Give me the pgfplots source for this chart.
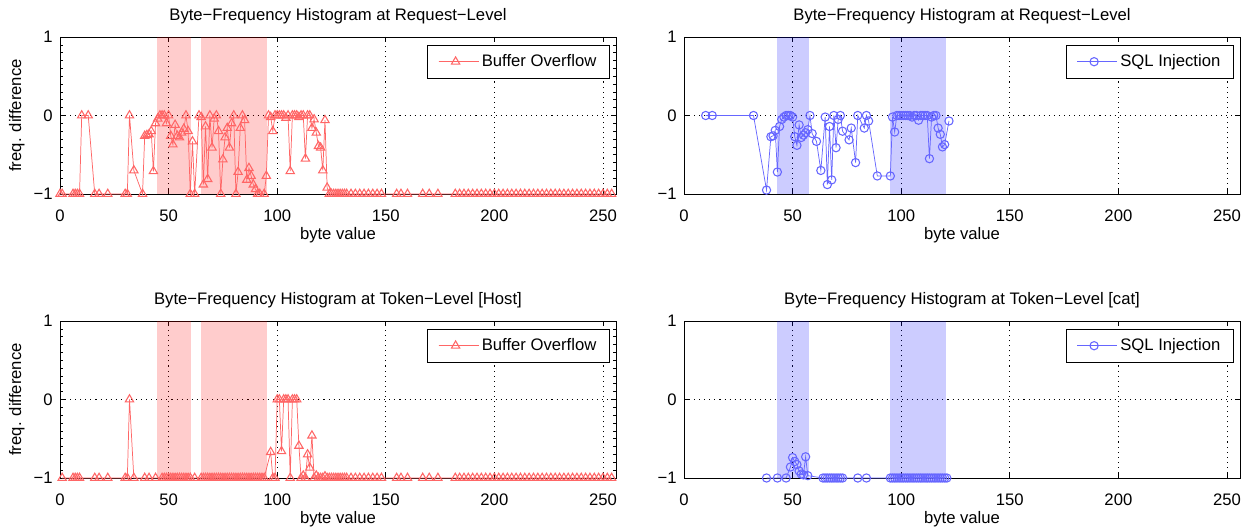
\documentclass[border=0pt]{standalone}
\usepackage{pgfplots}
\pgfplotsset{compat=1.18}
\usepackage{fontspec}
\setmainfont{Liberation Sans}
\definecolor{bred}{RGB}{255,102,102}
\definecolor{bblue}{RGB}{102,102,255}
\newcommand{\fs}{\fontsize{12.5}{14.5}\selectfont}
\pgfplotsset{
  base/.style={
    scale only axis, width=417pt, height=117.75pt,
    xmin=0, xmax=256, ymin=-1, ymax=1,
    xtick={0,50,100,150,200,250}, ytick={-1,0,1}, yticklabels={−1,0,1},
    /pgf/number format/assume math mode=true,
    tick align=inside, major tick length=4pt, minor tick length=2pt,
    grid=major, major grid style={black, line width=0.5pt, dash pattern=on 0.8pt off 3pt},
    axis line style={black, line width=0.5pt},
    tick style={black, line width=0.5pt},
    clip=false,
    font=\fs,
    ticklabel style={font=\fs},
    xticklabel style={yshift=-8.5pt},
    yticklabel style={xshift=-2pt},
    xlabel={byte value},
    xlabel style={font=\fs, yshift=2.5pt},
    ylabel style={font=\fs},
    title style={font=\fs, yshift=0.5pt},
    legend style={at={(1,1)}, anchor=north east, xshift=-4.5pt, yshift=-6pt,
      draw=black, line width=0.5pt, font=\fs, inner xsep=8pt, inner ysep=5pt},
    legend cell align=left,
    legend image code/.code={\draw[mark repeat=2,mark phase=2,##1] plot coordinates {(0cm,0cm) (0.45cm,0cm) (0.9cm,0cm)};\path (0cm,0cm) -- (1.06cm,0cm);},
  },
  redser/.style={color=bred, line width=0.55pt, mark=triangle, mark size=3.6pt, mark options={solid, line width=0.8pt, fill=none}},
  blueser/.style={color=bblue, line width=0.55pt, mark=o, mark size=3.1pt, mark options={solid, line width=0.8pt, fill=none}},
}
\begin{document}
\begin{tikzpicture}
\path[use as bounding box] (0,0) rectangle (936.75pt,396.75pt);

% ---------- top left
\begin{axis}[base, at={(45pt,251.25pt)}, anchor=south west,
  title={Byte−Frequency Histogram at Request−Level},
  ylabel={freq. difference}, minor y tick num=9]
\addplot[draw=none, fill=red, fill opacity=0.2, forget plot] coordinates {(44.7,-1) (44.7,1) (60.3,1) (60.3,-1)} -- cycle;
\addplot[draw=none, fill=red, fill opacity=0.2, forget plot] coordinates {(64.7,-1) (64.7,1) (95.3,1) (95.3,-1)} -- cycle;
\addplot[redser] coordinates {(0,-1)(1,-1)(6,-1)(7,-1)(8,-1)(9,-1)(10,0)(13,0)(16,-1)(18,-1)(22,-1)(30,-1)(31,-1)(32,0)(34,-0.70)(38,-1)(39,-0.26)(40,-0.25)(41,-0.24)(42,-0.20)(43,-0.71)(44,-0.10)(45,-0.04)(46,0)(47,0)(48,0)(49,-0.10)(50,0)(51,-0.26)(52,-0.37)(53,-0.12)(54,-0.26)(55,-0.28)(56,-0.22)(57,-0.17)(58,0)(59,-0.20)(60,-1)(61,-0.33)(62,-1)(64,0)(65,-0.02)(66,-0.88)(67,-0.14)(68,-0.81)(69,0)(70,-0.41)(71,-0.04)(72,0)(73,-0.20)(74,-1)(75,-0.56)(76,-0.28)(77,-0.16)(78,-0.41)(79,-0.10)(80,0)(81,-1)(82,-0.72)(83,-0.16)(84,0)(85,-0.06)(86,-0.82)(87,-0.67)(88,-0.77)(89,-0.88)(90,-0.94)(91,-1)(92,-1)(94,-1)(95,-0.77)(96,0)(97,-0.02)(98,-0.20)(99,0)(100,0)(101,0)(102,0)(103,0)(104,-0.03)(105,0)(106,-0.71)(107,0)(108,0)(109,0)(110,-0.02)(111,0)(112,0)(113,-0.55)(114,0)(115,0)(116,-0.16)(117,-0.05)(118,-0.22)(119,-0.39)(120,-0.41)(121,-0.70)(122,-0.06)(123,-0.92)(124,-1)(125,-1)(126,-1)(127,-1)(128,-1)(129,-1)(130,-1)(131,-1)(132,-1)(134,-1)(136,-1)(138,-1)(140,-1)(142,-1)(144,-1)(146,-1)(148,-1)(155,-1)(157,-1)(160,-1)(167,-1)(170,-1)(174,-1)(182,-1)(184,-1)(186,-1)(188,-1)(190,-1)(192,-1)(194,-1)(196,-1)(198,-1)(200,-1)(202,-1)(204,-1)(206,-1)(208,-1)(210,-1)(212,-1)(214,-1)(216,-1)(218,-1)(220,-1)(222,-1)(224,-1)(226,-1)(228,-1)(230,-1)(232,-1)(234,-1)(236,-1)(238,-1)(240,-1)(242,-1)(244,-1)(246,-1)(248,-1)(250,-1)(252,-1)(254,-1)};
\addlegendentry{Buffer Overflow}
\end{axis}

% ---------- top right
\begin{axis}[base, at={(513pt,251.25pt)}, anchor=south west,
  title={Byte−Frequency Histogram at Request−Level}]
\addplot[draw=none, fill=blue, fill opacity=0.2, forget plot] coordinates {(43,-1) (43,1) (57.7,1) (57.7,-1)} -- cycle;
\addplot[draw=none, fill=blue, fill opacity=0.2, forget plot] coordinates {(95,-1) (95,1) (120.6,1) (120.6,-1)} -- cycle;
\addplot[blueser] coordinates {(10,0)(13,0)(32,0)(38,-0.95)(40,-0.27)(41,-0.26)(42,-0.19)(43,-0.72)(44,-0.14)(45,-0.05)(46,-0.02)(47,0)(48,0)(49,0)(50,-0.02)(51,-0.27)(52,-0.38)(53,-0.12)(54,-0.28)(55,-0.25)(56,-0.22)(57,-0.18)(58,0)(59,-0.23)(61,-0.33)(63,-0.70)(65,-0.02)(66,-0.88)(67,-0.14)(68,-0.82)(69,0)(70,-0.41)(71,-0.05)(72,0)(73,-0.20)(76,-0.31)(77,-0.16)(79,-0.60)(80,0)(83,-0.16)(84,0)(85,-0.07)(89,-0.77)(95,-0.77)(96,-0.02)(97,-0.21)(98,0)(99,0)(100,0)(101,0)(102,0)(103,0)(104,0)(105,-0.02)(106,0)(107,0)(108,-0.06)(109,0)(110,0)(111,0)(112,0)(113,-0.55)(114,-0.02)(115,0)(116,0)(117,-0.16)(118,-0.24)(119,-0.40)(120,-0.37)(122,-0.07)};
\addlegendentry{SQL Injection}
\end{axis}

% ---------- bottom left
\begin{axis}[base, at={(45pt,38.25pt)}, anchor=south west,
  title={Byte−Frequency Histogram at Token−Level [Host]},
  ylabel={freq. difference}, minor y tick num=9]
\addplot[draw=none, fill=red, fill opacity=0.2, forget plot] coordinates {(44.7,-1) (44.7,1) (60.3,1) (60.3,-1)} -- cycle;
\addplot[draw=none, fill=red, fill opacity=0.2, forget plot] coordinates {(64.7,-1) (64.7,1) (95.3,1) (95.3,-1)} -- cycle;
\addplot[redser] coordinates {(1,-1)(6,-1)(7,-1)(8,-1)(9,-1)(16,-1)(18,-1)(22,-1)(30,-1)(31,-1)(32,0)(34,-1)(39,-1)(41,-1)(44,-1)(47,-1)(48,-1)(49,-1)(50,-1)(51,-1)(52,-1)(53,-1)(54,-1)(55,-1)(56,-1)(57,-1)(58,-1)(59,-1)(60,-1)(62,-1)(65,-1)(66,-1)(67,-1)(68,-1)(69,-1)(70,-1)(71,-1)(72,-1)(73,-1)(74,-1)(75,-1)(76,-1)(77,-1)(78,-1)(79,-1)(80,-1)(81,-1)(82,-1)(83,-1)(84,-1)(85,-1)(86,-1)(87,-1)(88,-1)(89,-1)(90,-1)(91,-1)(92,-1)(93,-1)(94,-1)(97,-0.67)(98,-1)(99,-1)(100,0)(101,0)(102,-0.66)(103,0)(104,0)(105,0)(106,-1)(107,0)(108,0)(109,0)(110,-0.59)(111,-1)(112,-0.97)(113,-1)(114,-0.70)(115,-0.87)(116,-0.46)(117,-1)(118,-0.97)(119,-1)(120,-1)(121,-1)(122,-0.98)(123,-1)(124,-1)(125,-1)(126,-1)(127,-1)(128,-1)(129,-1)(130,-1)(131,-1)(132,-1)(134,-1)(136,-1)(138,-1)(140,-1)(142,-1)(144,-1)(146,-1)(148,-1)(155,-1)(157,-1)(160,-1)(167,-1)(170,-1)(174,-1)(182,-1)(184,-1)(186,-1)(188,-1)(190,-1)(192,-1)(194,-1)(196,-1)(198,-1)(200,-1)(202,-1)(204,-1)(206,-1)(208,-1)(210,-1)(212,-1)(214,-1)(216,-1)(218,-1)(220,-1)(222,-1)(224,-1)(226,-1)(228,-1)(230,-1)(232,-1)(234,-1)(236,-1)(238,-1)(240,-1)(242,-1)(244,-1)(246,-1)(248,-1)(250,-1)(252,-1)(254,-1)};
\addlegendentry{Buffer Overflow}
\end{axis}

% ---------- bottom right
\begin{axis}[base, at={(513pt,38.25pt)}, anchor=south west,
  title={Byte−Frequency Histogram at Token−Level [cat]}]
\addplot[draw=none, fill=blue, fill opacity=0.2, forget plot] coordinates {(43,-1) (43,1) (57.7,1) (57.7,-1)} -- cycle;
\addplot[draw=none, fill=blue, fill opacity=0.2, forget plot] coordinates {(95,-1) (95,1) (120.6,1) (120.6,-1)} -- cycle;
\addplot[blueser] coordinates {(38,-1)(43,-1)(47,-1)(49,-0.86)(50,-0.74)(51,-0.79)(52,-0.83)(53,-0.91)(54,-0.95)(55,-0.96)(56,-0.73)(57,-0.97)(64,-1)(65,-1)(66,-1)(67,-1)(68,-1)(69,-1)(70,-1)(71,-1)(72,-1)(73,-1)(80,-1)(84,-1)(95,-1)(96,-1)(97,-1)(98,-1)(99,-1)(100,-1)(101,-1)(102,-1)(103,-1)(104,-1)(105,-1)(106,-1)(107,-1)(108,-1)(109,-1)(110,-1)(111,-1)(112,-1)(113,-1)(114,-1)(115,-1)(116,-1)(117,-1)(118,-1)(119,-1)(120,-1)(121,-1)};
\addlegendentry{SQL Injection}
\end{axis}
\end{tikzpicture}
\end{document}
